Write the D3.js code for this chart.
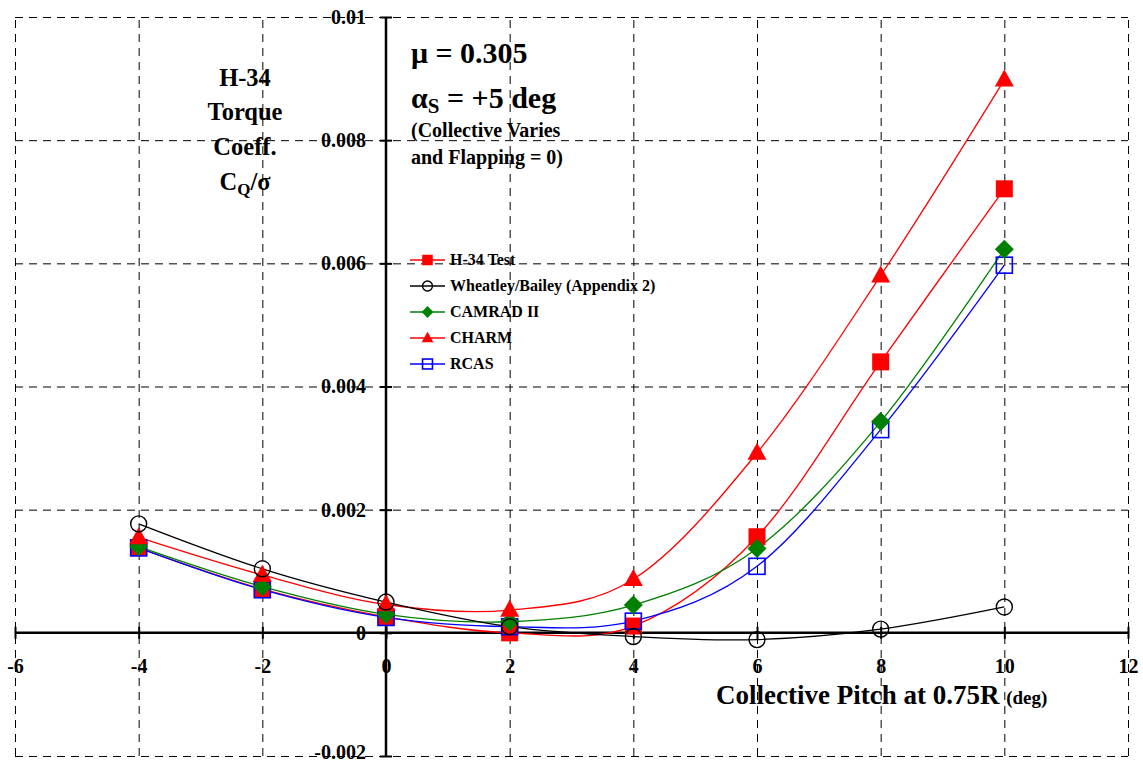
<!DOCTYPE html>
<html><head><meta charset="utf-8">
<script src="https://cdn.jsdelivr.net/npm/d3@7"></script>
<style>
body{margin:0;background:#fff;}
svg text{font-family:"Liberation Serif","Times New Roman",serif;font-weight:bold;fill:#000;}
</style></head>
<body><svg id="c" width="1143" height="765"></svg>
<script>
const pitch = [-4, -2, 0, 2, 4, 6, 8, 10];
const h34Test   = [0.00138, 0.00071, 0.00026, 0.0000, 0.00011, 0.00156, 0.0044, 0.00721];
const wheatley  = [0.00177, 0.00104, 0.00050, 0.00010, -0.00006, -0.00011, 0.00006, 0.00042];
const camrad    = [0.00140, 0.00075, 0.00030, 0.00018, 0.00045, 0.00137, 0.00343, 0.00623];
const charm     = [0.00155, 0.00094, 0.00046, 0.00037, 0.00087, 0.00292, 0.00580, 0.00898];
const rcas      = [0.00138, 0.00070, 0.00025, 0.00010, 0.00019, 0.00108, 0.00330, 0.00597];
const xTicks = [-6, -4, -2, 0, 2, 4, 6, 8, 10, 12];
const xTickLabels = ["-6", "-4", "-2", "0", "2", "4", "6", "8", "10", "12"];
const yTicks = [-0.002, 0, 0.002, 0.004, 0.006, 0.008, 0.01];
const yTickLabels = ["-0.002", "0", "0.002", "0.004", "0.006", "0.008", "0.01"];
const seriesNames = ["H-34 Test", "Wheatley/Bailey (Appendix 2)", "CAMRAD II", "CHARM", "RCAS"];

const svg = d3.select("#c");
const x = d3.scaleLinear().domain([-6, 12]).range([15, 1128]);
const y = d3.scaleLinear().domain([-0.002, 0.01]).range([756, 17]);

// grid
const gx = svg.append("g").attr("transform", `translate(0,${y(-0.002)})`)
  .call(d3.axisBottom(x).tickValues(xTicks).tickSize(-(y(-0.002) - y(0.01))).tickFormat(""));
gx.select(".domain").remove();
gx.selectAll("line").attr("stroke", "#000").attr("stroke-dasharray", "8,6").attr("stroke-width", 1);
const gy = svg.append("g").attr("transform", `translate(${x(-6)},0)`)
  .call(d3.axisLeft(y).tickValues(yTicks).tickSize(-(x(12) - x(-6))).tickFormat(""));
gy.select(".domain").remove();
gy.selectAll("line").attr("stroke", "#000").attr("stroke-dasharray", "8,6").attr("stroke-width", 1);

// axes labels
const ax = svg.append("g").attr("transform", `translate(0,${y(0)})`)
  .call(d3.axisBottom(x).tickValues(xTicks).tickSize(6).tickPadding(20)
    .tickFormat((d, i) => xTickLabels[i]));
ax.select(".domain").remove();
ax.selectAll(".tick line").attr("y1", -6).attr("y2", 6).attr("stroke", "#000").attr("stroke-width", 2);
ax.selectAll(".tick text").style("font-size", "20px").style("font-family", "Liberation Serif").style("font-weight", "bold");

const ay = svg.append("g").attr("transform", `translate(${x(0)},0)`)
  .call(d3.axisLeft(y).tickValues(yTicks).tickSize(6).tickPadding(14)
    .tickFormat((d, i) => yTickLabels[i]));
ay.select(".domain").remove();
ay.selectAll(".tick line").attr("x1", -6).attr("x2", 6).attr("stroke", "#000").attr("stroke-width", 2);
ay.selectAll(".tick text").style("font-size", "20px").style("font-family", "Liberation Serif").style("font-weight", "bold");
ay.selectAll(".tick").filter(d => d === -0.002).select("text").attr("dy", "0.12em");

// main axis lines
svg.append("line").attr("x1", x(-6)).attr("x2", x(12)).attr("y1", y(0)).attr("y2", y(0))
  .attr("stroke", "#000").attr("stroke-width", 2.5);
svg.append("line").attr("x1", x(0)).attr("x2", x(0)).attr("y1", y(0.01)).attr("y2", y(-0.002))
  .attr("stroke", "#000").attr("stroke-width", 2.5);

// series
const series = [
  {name: seriesNames[0], vals: h34Test, color: "#ff0000", mk: "square"},
  {name: seriesNames[4], vals: rcas, color: "#0000ff", mk: "osquare"},
  {name: seriesNames[2], vals: camrad, color: "#008000", mk: "diamond"},
  {name: seriesNames[3], vals: charm, color: "#ff0000", mk: "triangle"},
  {name: seriesNames[1], vals: wheatley, color: "#000000", mk: "circle"}
];
const line = d3.line().x(d => x(d[0])).y(d => y(d[1])).curve(d3.curveCardinal.tension(0));
series.forEach(s => {
  svg.append("path").datum(pitch.map((p, i) => [p, s.vals[i]]))
    .attr("d", line).attr("fill", "none").attr("stroke", s.color).attr("stroke-width", 1.3);
});
function marker(g, type, color, cx, cy, k) {
  if (type === "square") {
    g.append("rect").attr("x", cx - 8.5*k).attr("y", cy - 8.5*k).attr("width", 17*k).attr("height", 17*k).attr("fill", color);
  } else if (type === "osquare") {
    g.append("rect").attr("x", cx - 8*k).attr("y", cy - 8*k).attr("width", 16*k).attr("height", 16*k)
      .attr("fill", "none").attr("stroke", color).attr("stroke-width", 1.6);
  } else if (type === "diamond") {
    const r = 9.5*k;
    g.append("path").attr("d", `M${cx},${cy-r}L${cx+r},${cy}L${cx},${cy+r}L${cx-r},${cy}Z`).attr("fill", color);
  } else if (type === "triangle") {
    const w = 9.5*k, h = 17*k;
    g.append("path").attr("d", `M${cx},${cy-h*0.6}L${cx+w},${cy+h*0.4}L${cx-w},${cy+h*0.4}Z`).attr("fill", color);
  } else if (type === "circle") {
    g.append("circle").attr("cx", cx).attr("cy", cy).attr("r", 8*k).attr("fill", "none").attr("stroke", color).attr("stroke-width", 1.4);
  }
}
series.forEach(s => {
  const g = svg.append("g");
  pitch.forEach((p, i) => marker(g, s.mk, s.color, x(p), y(s.vals[i]), 1));
});

// legend
const legendOrder = [0, 4, 2, 3, 1].map(i => series[i]);
const legendY = [260, 286, 312, 338, 364];
legendOrder.forEach((s, i) => {
  const g = svg.append("g");
  g.append("line").attr("x1", 410).attr("x2", 445).attr("y1", legendY[i]).attr("y2", legendY[i])
    .attr("stroke", s.color).attr("stroke-width", 1.3);
  marker(g, s.mk, s.color, 427.5, legendY[i], 0.62);
  g.append("text").attr("x", 450).attr("y", legendY[i] + 5).style("font-size", "16px").text(s.name);
});

// title block left
const tl = svg.append("g").attr("text-anchor", "middle");
tl.append("text").attr("x", 245).attr("y", 86).style("font-size", "24.5px").text("H-34");
tl.append("text").attr("x", 245).attr("y", 120).style("font-size", "24.5px").text("Torque");
tl.append("text").attr("x", 245).attr("y", 155).style("font-size", "24.5px").text("Coeff.");
const cq = tl.append("text").attr("x", 245).attr("y", 190).style("font-size", "24.5px");
cq.append("tspan").text("C");
cq.append("tspan").attr("dy", 5).style("font-size", "17px").text("Q");
cq.append("tspan").attr("dy", -5).text("/σ");

// parameters block
const pb = svg.append("g");
pb.append("text").attr("x", 411).attr("y", 63).style("font-size", "30px").text("μ = 0.305");
const al = pb.append("text").attr("x", 411).attr("y", 108).style("font-size", "30px");
al.append("tspan").text("α");
al.append("tspan").attr("dy", 5).style("font-size", "21px").text("S");
al.append("tspan").attr("dy", -5).text(" = +5 deg");
pb.append("text").attr("x", 411).attr("y", 137).style("font-size", "20px").text("(Collective Varies");
pb.append("text").attr("x", 411).attr("y", 164).style("font-size", "20px").text("and Flapping = 0)");

// x axis title
const xt = svg.append("text").attr("x", 716).attr("y", 704).style("font-size", "27px");
xt.append("tspan").text("Collective Pitch at 0.75R ");
xt.append("tspan").style("font-size", "19px").text("(deg)");
</script></body></html>
